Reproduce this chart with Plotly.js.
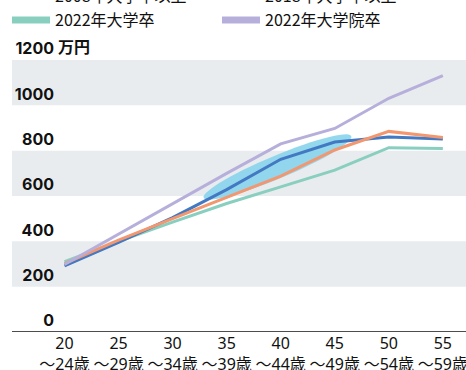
<!DOCTYPE html>
<html>
<head>
<meta charset="utf-8">
<script src="https://cdn.plot.ly/plotly-3.0.1.min.js"></script>
<style>html,body{margin:0;padding:0;background:#fff;}#chart{width:466px;height:370px;}</style>
</head>
<body>
<div id="chart"></div>
<script>
// ---- data ----
const ages = [20, 25, 30, 35, 40, 45, 50, 55];
const ageLabels = ["20<br>～24歳", "25<br>～29歳", "30<br>～34歳", "35<br>～39歳", "40<br>～44歳", "45<br>～49歳", "50<br>～54歳", "55<br>～59歳"];
const seriesNames = ["2008年大学卒以上", "2018年大学卒以上", "2022年大学卒", "2022年大学院卒"];
const univ2008 = [292, 395, 505, 628, 762, 838, 860, 852];
const univ2018 = [302, 405, 500, 595, 688, 803, 885, 858];
const univ2022 = [310, 400, 485, 567, 640, 714, 813, 810];
const grad2022 = [298, 432, 566, 700, 830, 898, 1031, 1131];
const yTickVals = [0, 200, 400, 600, 800, 1000, 1200];
const yTickText = ["0", "200", "400", "600", "800", "1000", "1200"];
const bandRanges = [[200, 400], [600, 800], [1000, 1200]];

// ---- styles ----
const colors = ["#4279c2", "#f2976f", "#89cfbf", "#b7afdb"];
const W = 466, H = 370, M = {l: 55, r: 0, t: 60, b: 38};
const plotW = W - M.l - M.r, plotH = H - M.t - M.b;
const pxPerX = 10.81;
const xRange = [20 - (64.5 - M.l) / pxPerX, 20 + (W - 64.5) / pxPerX];
const yRange = [0, 1200];
const pxPerY = plotH / (yRange[1] - yRange[0]);
const leftPaper = (12 - M.l) / plotW;

// highlight ellipse (center in data units, axes in px)
const hl = {cx: 39.7, cy: 728, a: 80, b: 11.5, angleDeg: 22.7};
function ellipsePath(e) {
  const th = e.angleDeg * Math.PI / 180;
  let d = "";
  const n = 60;
  for (let i = 0; i <= n; i++) {
    const t = 2 * Math.PI * i / n;
    const ux = e.a * Math.cos(t), uy = e.b * Math.sin(t);
    const px = ux * Math.cos(th) - uy * Math.sin(th);
    const py = ux * Math.sin(th) + uy * Math.cos(th);
    const x = e.cx + px / pxPerX, y = e.cy + py / pxPerY;
    d += (i === 0 ? "M" : "L") + x.toFixed(3) + "," + y.toFixed(2);
  }
  return d + "Z";
}

const lineData = [univ2008, univ2018, univ2022, grad2022];
const drawOrder = [2, 0, 1, 3];
const traces = [];
drawOrder.forEach(i => {
  traces.push({x: ages, y: lineData[i], type: "scatter", mode: "lines",
    line: {color: colors[i], width: 3}, showlegend: false, hoverinfo: "skip"});
});
// legend entries
seriesNames.forEach((nm, i) => {
  traces.push({x: [null], y: [null], type: "scatter", mode: "lines", name: nm,
    line: {color: colors[i], width: 7}, showlegend: true});
});

const shapes = bandRanges.map(r => ({type: "rect", xref: "paper", yref: "y", x0: leftPaper, x1: 1,
  y0: r[0], y1: r[1], fillcolor: "#e9ecef", line: {width: 0}, layer: "below"}));
shapes.push({type: "path", xref: "x", yref: "y", path: ellipsePath(hl), fillcolor: "#88d4ec",
  opacity: 0.9, line: {width: 0}, layer: "below"});
shapes.push({type: "line", xref: "paper", yref: "y", x0: leftPaper, x1: 1, y0: 0, y1: 0,
  line: {color: "#111", width: 1.5}});

const layout = {
  width: W, height: H,
  margin: {l: M.l, r: M.r, t: M.t, b: M.b, autoexpand: false},
  paper_bgcolor: "#fff", plot_bgcolor: "rgba(0,0,0,0)",
  font: {family: "Noto Sans, Noto Sans CJK JP, sans-serif", color: "#111"},
  xaxis: {range: xRange, tickvals: ages, ticktext: ageLabels, showgrid: false, zeroline: false,
    showline: false, ticks: "", tickfont: {size: 16, color: "#111"}, ticklabeloverflow: "allow",
    fixedrange: true},
  yaxis: {range: yRange, tickvals: yTickVals, ticktext: yTickText, showgrid: false, zeroline: false,
    showline: false, ticks: "", ticklabelposition: "outside top",
    tickfont: {size: 16, weight: 700, family: "Inter, sans-serif", color: "#111"}, fixedrange: true},
  legend: {orientation: "h", x: leftPaper - 5 / plotW, xanchor: "left", y: 1.297, yanchor: "top",
    entrywidth: 157, entrywidthmode: "pixels", itemwidth: 38,
    font: {size: 16, family: "Noto Sans CJK JP, sans-serif", color: "#111"}, bgcolor: "rgba(0,0,0,0)"},
  shapes: shapes,
  annotations: [{text: "万円", xref: "paper", yref: "y", x: (56 - M.l) / plotW, y: 1200, xanchor: "left",
    yanchor: "bottom", showarrow: false, font: {size: 16, weight: 700, color: "#111"}}]
};

Plotly.newPlot("chart", traces, layout, {displayModeBar: false, staticPlot: true});
</script>
</body>
</html>
